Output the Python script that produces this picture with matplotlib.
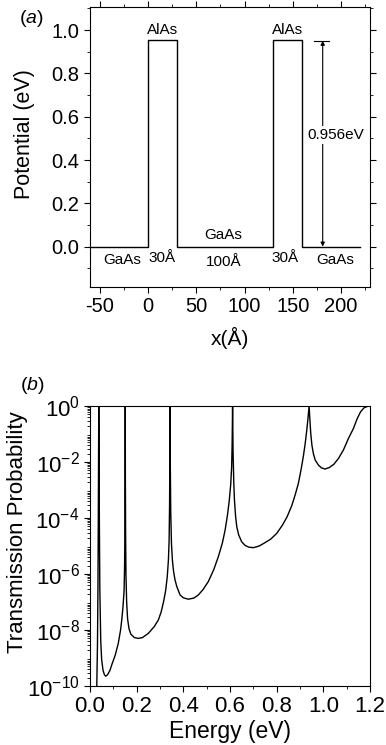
import numpy as np
import matplotlib
matplotlib.use("Agg")
import matplotlib.pyplot as plt
from matplotlib.ticker import MultipleLocator, LogLocator, NullFormatter, FormatStrFormatter

plt.rcParams['font.family'] = ['Liberation Sans', 'DejaVu Sans']
plt.rcParams['mathtext.fontset'] = 'custom'
plt.rcParams['mathtext.rm'] = 'Liberation Sans'
plt.rcParams['mathtext.it'] = 'Liberation Sans:italic'
plt.rcParams['axes.unicode_minus'] = False

# (a) potential profile of the double barrier
x_pos = [-60, 0, 0, 30, 30, 130, 130, 160, 160, 220]
v_pot = [0, 0, 0.956, 0.956, 0, 0, 0.956, 0.956, 0, 0]
barrier_height = 0.956

# (b) transmission vs energy (log10 of T)
energy = [0.026, 0.029, 0.032, 0.034, 0.0355, 0.0368, 0.0375, 0.0385, 0.040, 0.042,
          0.046, 0.050, 0.056, 0.062, 0.067, 0.075, 0.085, 0.095, 0.108, 0.121,
          0.131, 0.136, 0.141, 0.146, 0.148, 0.1495, 0.1505, 0.151, 0.1515, 0.1525,
          0.154, 0.157, 0.161, 0.167, 0.175, 0.190, 0.207, 0.225, 0.250, 0.275,
          0.293, 0.305, 0.315, 0.324, 0.331, 0.336, 0.339, 0.341, 0.342, 0.343,
          0.344, 0.346, 0.349, 0.353, 0.358, 0.364, 0.372, 0.386, 0.400, 0.421,
          0.445, 0.464, 0.485, 0.507, 0.530, 0.550, 0.567, 0.579, 0.589, 0.597,
          0.603, 0.607, 0.609, 0.611, 0.613, 0.616, 0.619, 0.624, 0.629, 0.637,
          0.650, 0.665, 0.680, 0.700, 0.725, 0.750, 0.775, 0.800, 0.825, 0.845,
          0.865, 0.880, 0.893, 0.905, 0.914, 0.922, 0.929, 0.934, 0.939, 0.942,
          0.946, 0.951, 0.957, 0.965, 0.979, 0.992, 1.007, 1.025, 1.045, 1.065,
          1.086, 1.108, 1.129, 1.145, 1.160, 1.175, 1.190, 1.200]
log_t = [-10.5, -10.0, -8.5, -6.5, -4.0, -1.5, 0.0, -1.5, -4.0, -6.5,
         -8.4, -9.07, -9.45, -9.6, -9.65, -9.6, -9.45, -9.2, -8.9, -8.48,
         -8.0, -7.64, -7.2, -6.6, -5.8, -4.5, -2.5, 0.0, -2.5, -4.5,
         -6.0, -7.0, -7.6, -7.95, -8.15, -8.27, -8.30, -8.27, -8.12, -7.88,
         -7.64, -7.35, -7.0, -6.6, -6.1, -5.5, -4.8, -3.5, -2.0, 0.0,
         -2.0, -3.8, -4.9, -5.5, -5.9, -6.2, -6.45, -6.75, -6.85, -6.90,
         -6.86, -6.75, -6.55, -6.27, -5.85, -5.38, -4.9, -4.43, -3.9, -3.36,
         -2.8, -2.17, -1.4, 0.0, -1.6, -2.7, -3.36, -3.95, -4.31, -4.6,
         -4.85, -4.98, -5.04, -5.06, -5.0, -4.88, -4.75, -4.55, -4.25, -3.95,
         -3.55, -3.15, -2.76, -2.25, -1.81, -1.35, -0.86, -0.45, 0.0, -0.45,
         -0.98, -1.4, -1.69, -1.93, -2.11, -2.21, -2.25, -2.2, -2.08, -1.87,
         -1.57, -1.15, -0.8, -0.45, -0.2, -0.06, -0.01, 0.0]

fig = plt.figure(figsize=(3.86, 7.45), dpi=100)

# ---- panel (a)
ax1 = fig.add_axes([0.2332, 0.6152, 0.7254, 0.3758])
ax1.plot(x_pos, v_pot, color='black', lw=1.0)
ax1.set_xlim(-60, 230)
ax1.set_ylim(-0.185, 1.108)
ax1.xaxis.set_major_locator(MultipleLocator(50))
ax1.xaxis.set_minor_locator(MultipleLocator(25))
ax1.yaxis.set_major_locator(MultipleLocator(0.2))
ax1.yaxis.set_minor_locator(MultipleLocator(0.1))
ax1.yaxis.set_major_formatter(FormatStrFormatter('%.1f'))
ax1.tick_params(which='both', direction='out', top=True, right=True, labelsize=14.5)
ax1.tick_params(which='major', length=4)
ax1.tick_params(which='minor', length=2.5)
ax1.set_xlabel('x(Å)', fontsize=15, labelpad=8)
ax1.set_ylabel('Potential (eV)', fontsize=15.5)
ax1.yaxis.set_label_coords(-0.196, 0.545)

fs = 11
ax1.text(15, 1.0, 'AlAs', ha='center', va='center', fontsize=fs)
ax1.text(145, 1.0, 'AlAs', ha='center', va='center', fontsize=fs)
ax1.text(78, 0.054, 'GaAs', ha='center', va='center', fontsize=fs)
ax1.text(-27, -0.062, 'GaAs', ha='center', va='center', fontsize=fs)
ax1.text(194, -0.062, 'GaAs', ha='center', va='center', fontsize=fs)
ax1.text(15, -0.052, '30Å', ha='center', va='center', fontsize=fs)
ax1.text(142, -0.052, '30Å', ha='center', va='center', fontsize=fs)
ax1.text(78, -0.07, '100Å', ha='center', va='center', fontsize=fs)

# height marker
ax1.annotate('', xy=(181, barrier_height - 0.005), xytext=(181, 0),
             arrowprops=dict(arrowstyle='<|-|>', color='black', lw=0.8,
                             mutation_scale=6, shrinkA=0, shrinkB=0))
ax1.plot([172, 188], [barrier_height - 0.005] * 2, color='black', lw=0.8)
ax1.text(195, 0.515, '0.956eV', ha='center', va='center', fontsize=11,
         bbox=dict(facecolor='white', edgecolor='none', pad=1.5))
fig.text(0.082, 0.975, '($a$)', fontsize=14, ha='center', va='center')

# ---- panel (b)
ax2 = fig.add_axes([0.2332, 0.0792, 0.7254, 0.3758])
ax2.plot(energy, 10.0 ** np.array(log_t), color='black', lw=1.0)
ax2.set_yscale('log')
ax2.set_xlim(0, 1.2)
ax2.set_ylim(1e-10, 1)
ax2.xaxis.set_major_locator(MultipleLocator(0.2))
ax2.xaxis.set_minor_locator(MultipleLocator(0.1))
ax2.xaxis.set_major_formatter(FormatStrFormatter('%.1f'))
ax2.set_yticks([1e-10, 1e-8, 1e-6, 1e-4, 1e-2, 1])
ax2.yaxis.set_minor_locator(LogLocator(base=10, subs=np.arange(2, 10), numticks=20))
ax2.yaxis.set_minor_formatter(NullFormatter())
ax2.tick_params(which='both', direction='out', labelsize=16)
ax2.tick_params(which='major', length=4)
ax2.tick_params(which='minor', length=2.5)
ax2.set_xlabel('Energy (eV)', fontsize=16.5, labelpad=2)
ax2.set_ylabel('Transmission Probability', fontsize=16)
ax2.yaxis.set_label_coords(-0.221, 0.548)
fig.text(0.085, 0.482, '($b$)', fontsize=14, ha='center', va='center')

fig.savefig('out.png', dpi=100)
